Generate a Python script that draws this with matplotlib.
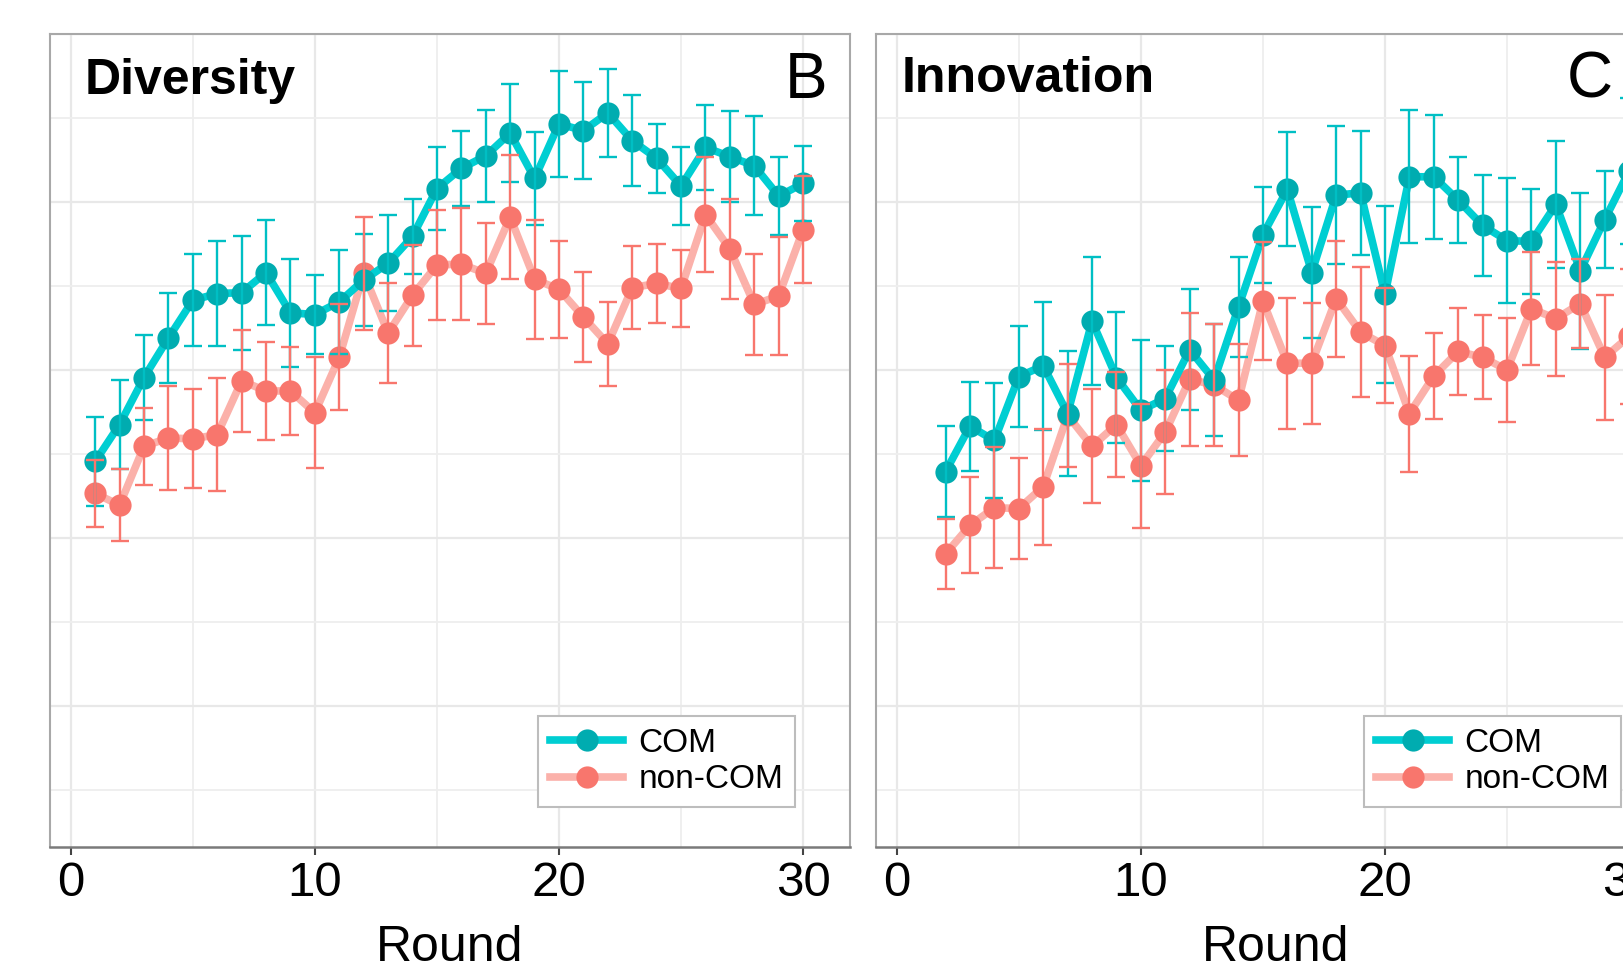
import matplotlib
matplotlib.use("Agg")
import matplotlib.pyplot as plt
from matplotlib.lines import Line2D
from matplotlib.ticker import MultipleLocator

plt.rcParams['font.family'] = ['Liberation Sans', 'DejaVu Sans']

# ---------------- data ----------------
groups = ["COM", "non-COM"]

div_rounds = list(range(1, 31))
div_com = [0.491, 0.535, 0.591, 0.638, 0.683, 0.691, 0.692, 0.716, 0.668, 0.666,
           0.681, 0.707, 0.727, 0.759, 0.816, 0.840, 0.855, 0.882, 0.828, 0.893,
           0.885, 0.906, 0.873, 0.852, 0.819, 0.865, 0.854, 0.843, 0.807, 0.822]
div_com_se = [0.053, 0.053, 0.051, 0.054, 0.055, 0.063, 0.068, 0.062, 0.064, 0.047,
              0.062, 0.055, 0.057, 0.045, 0.049, 0.045, 0.055, 0.058, 0.055, 0.063,
              0.058, 0.052, 0.054, 0.041, 0.046, 0.051, 0.054, 0.059, 0.046, 0.045]
div_non = [0.453, 0.439, 0.509, 0.519, 0.518, 0.523, 0.587, 0.575, 0.575, 0.549,
           0.615, 0.715, 0.644, 0.689, 0.725, 0.726, 0.715, 0.782, 0.708, 0.696,
           0.663, 0.631, 0.698, 0.703, 0.697, 0.785, 0.744, 0.678, 0.688, 0.767]
div_non_se = [0.040, 0.043, 0.046, 0.062, 0.059, 0.067, 0.061, 0.058, 0.052, 0.066,
              0.063, 0.067, 0.059, 0.060, 0.065, 0.067, 0.060, 0.074, 0.071, 0.058,
              0.054, 0.050, 0.049, 0.047, 0.046, 0.068, 0.059, 0.060, 0.070, 0.064]

inn_rounds = list(range(2, 31))
inn_com = [0.479, 0.533, 0.516, 0.592, 0.605, 0.548, 0.658, 0.591, 0.552, 0.566,
           0.624, 0.588, 0.675, 0.761, 0.815, 0.716, 0.808, 0.811, 0.690, 0.830,
           0.830, 0.802, 0.772, 0.754, 0.753, 0.797, 0.718, 0.779, 0.837]
inn_com_se = [0.054, 0.053, 0.069, 0.060, 0.076, 0.074, 0.076, 0.078, 0.084, 0.062,
              0.072, 0.067, 0.060, 0.057, 0.068, 0.078, 0.082, 0.074, 0.105, 0.079,
              0.074, 0.051, 0.060, 0.074, 0.063, 0.076, 0.093, 0.058, 0.087]
inn_non = [0.381, 0.415, 0.436, 0.435, 0.461, 0.546, 0.509, 0.535, 0.486, 0.526,
           0.589, 0.582, 0.564, 0.682, 0.608, 0.608, 0.685, 0.645, 0.629, 0.548,
           0.593, 0.622, 0.615, 0.600, 0.673, 0.661, 0.679, 0.615, 0.640]
inn_non_se = [0.042, 0.057, 0.072, 0.060, 0.069, 0.061, 0.068, 0.063, 0.074, 0.074,
              0.079, 0.073, 0.067, 0.070, 0.078, 0.072, 0.069, 0.077, 0.068, 0.069,
              0.051, 0.052, 0.050, 0.062, 0.067, 0.068, 0.053, 0.074, 0.080]

x_ticks = [0, 10, 20, 30]
x_label = "Round"
panel_titles = ["Diversity", "Innovation"]
panel_letters = ["B", "C"]

# ---------------- style ----------------
W, H = 1624, 969
COM_LINE, COM_PT, COM_ERR = '#00CED2', '#00ACB0', '#00BFC4'
NON_LINE, NON_PT, NON_ERR = '#FBB1AA', '#F8766D', '#F8766D'

fig = plt.figure(figsize=(W / 100, H / 100), dpi=100)


def px_rect(left, top, width, height):
    return [left / W, 1 - (top + height) / H, width / W, height / H]


axes = [fig.add_axes(px_rect(50, 34, 800, 813)),
        fig.add_axes(px_rect(876, 34, 800, 813))]

datasets = [
    (div_rounds, div_com, div_com_se, div_non, div_non_se),
    (inn_rounds, inn_com, inn_com_se, inn_non, inn_non_se),
]

for ax, (xr, com, com_se, non, non_se) in zip(axes, datasets):
    ax.set_xlim(-0.85, 31.92)
    ax.set_ylim(0.032, 1.0)
    ax.xaxis.set_major_locator(MultipleLocator(10))
    ax.xaxis.set_minor_locator(MultipleLocator(5))
    ax.yaxis.set_major_locator(MultipleLocator(0.2))
    ax.yaxis.set_minor_locator(MultipleLocator(0.1))
    ax.grid(True, which='major', color='#E8E8E8', linewidth=1.6, zorder=0)
    ax.grid(True, which='minor', color='#EEEEEE', linewidth=1.3, zorder=0)
    ax.set_axisbelow(True)

    ax.plot(xr, non, color=NON_LINE, linewidth=5.5, zorder=2, solid_capstyle='round')
    ax.plot(xr, non, 'o', color=NON_PT, markersize=16, markeredgewidth=0, zorder=3)
    ax.plot(xr, com, color=COM_LINE, linewidth=5.5, zorder=4, solid_capstyle='round')
    ax.plot(xr, com, 'o', color=COM_PT, markersize=16, markeredgewidth=0, zorder=5)
    ax.errorbar(xr, com, yerr=com_se, fmt='none', ecolor=COM_ERR, elinewidth=1.7,
                capsize=6.5, capthick=1.7, zorder=6)
    ax.errorbar(xr, non, yerr=non_se, fmt='none', ecolor=NON_ERR, elinewidth=1.7,
                capsize=6.5, capthick=1.7, zorder=6)

    ax.set_xticks(x_ticks)
    ax.set_xticklabels([str(t) for t in x_ticks])
    ax.tick_params(axis='x', which='major', labelsize=35.5, length=6, width=1.5,
                   color='#444444', pad=4.3, direction='out')
    ax.tick_params(axis='x', which='minor', length=0)
    ax.tick_params(axis='y', which='both', length=0, labelleft=False)
    for s in ['top', 'left', 'right']:
        ax.spines[s].set_color('#A8A8A8')
        ax.spines[s].set_linewidth(1.5)
    ax.spines['bottom'].set_color('#7A7A7A')
    ax.spines['bottom'].set_linewidth(1.8)

    handles = [
        Line2D([], [], color=COM_LINE, linewidth=5.5, marker='o', markersize=16,
               markerfacecolor=COM_PT, markeredgewidth=0),
        Line2D([], [], color=NON_LINE, linewidth=5.5, marker='o', markersize=16,
               markerfacecolor=NON_PT, markeredgewidth=0),
    ]
    leg = ax.legend(handles, groups, loc='lower right',
                    bbox_to_anchor=(0.93125, 0.0492), fontsize=24,
                    frameon=True, fancybox=False, framealpha=1,
                    edgecolor='#BDBDBD', borderpad=0.35, labelspacing=0.16,
                    handlelength=2.2, handletextpad=0.45, borderaxespad=0)
    leg.get_frame().set_linewidth(1.5)


def ftext(x, y, s, **kw):
    fig.text(x / W, 1 - y / H, s, **kw)


ftext(85, 93.5, panel_titles[0], fontsize=36, fontweight='bold', va='baseline', ha='left')
ftext(902, 92, panel_titles[1], fontsize=36, fontweight='bold', va='baseline', ha='left')
ftext(827, 98, panel_letters[0], fontsize=46, va='baseline', ha='right')
ftext(1613, 98, panel_letters[1], fontsize=46, va='baseline', ha='right')
ftext(450, 961, x_label, fontsize=36, va='baseline', ha='center')
ftext(1276, 961, x_label, fontsize=36, va='baseline', ha='center')

fig.savefig("out.png", dpi=100, facecolor='white')
